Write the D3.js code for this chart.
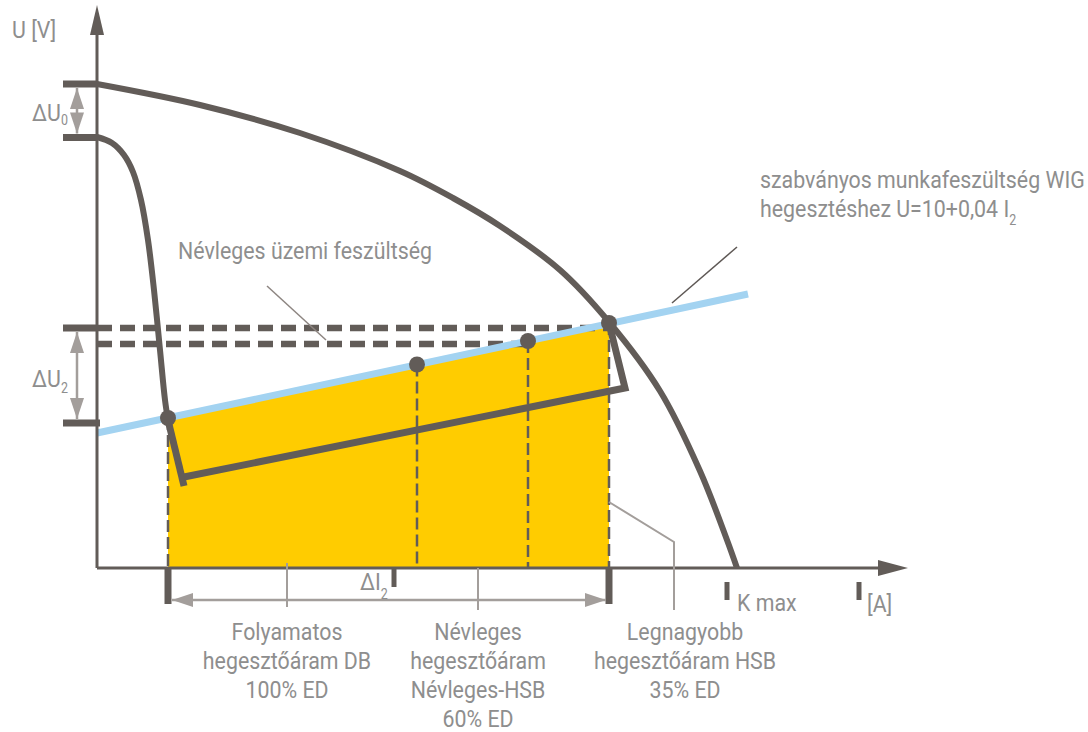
<!DOCTYPE html>
<html>
<head>
<meta charset="utf-8">
<script src="https://cdn.jsdelivr.net/npm/d3@7"></script>
<style>
body { margin: 0; background: #fff; }
text { font-family: Roboto, "DejaVu Sans Condensed", sans-serif; fill: #8e8e8e; font-size: 24px; }
</style>
</head>
<body>
<svg id="chart" width="1088" height="732"></svg>
<script>
// schematic values: current I [A], voltage U [V]
var outerCurve = [[0, 96.8], [51.5, 92.6], [101.5, 87], [151.5, 79.4], [178, 74], [201.5, 68.4],
                  [231.5, 59.6], [256, 49.2], [281.5, 35.4], [301.5, 19.4], [315, 5.6], [320, 0]];
var innerCurve = [[0, 86.2], [7.5, 85], [13.5, 82.6], [18, 79.2], [22, 73.6], [25.5, 65.6],
                  [28.5, 55.6], [31.5, 43.6], [34, 33.6], [35.5, 29.6]];
var normLine = [[0, 27], [325.5, 54.8]];          // U = 10 + 0,04 I2 (schematic)
var opPoints = [[35.5, 30], [160, 40.7], [215.5, 45.4], [256, 49]];
var workLineA = [[35.5, 29.6], [43.5, 16.4]];
var workLineB = [[43.5, 18.2], [264, 36], [256, 49]];
var levelU = [96.8, 86.1, 48, 29];                 // U0 top, U0 bottom, U2 top, U2 bottom
var dashLevels = [[48, 256], [44.8, 215.5]];       // [U, end current]
var currentTicks = [35.5, 256];
var deltaI = 148.5, kMax = 315, unitTick = 381;
var axisMax = [405.5, 112.6];

var svg = d3.select("#chart");
var dark = "#625c58", blue = "#a3d3f1", yellow = "#ffcc00", grey = "#a39e9b";

var x = d3.scaleLinear().domain([0, 400]).range([97, 897]);
var y = d3.scaleLinear().domain([0, 112]).range([568, 8]);

var line = d3.line().x(function(d) { return x(d[0]); }).y(function(d) { return y(d[1]); });
var smooth = d3.line().x(function(d) { return x(d[0]); }).y(function(d) { return y(d[1]); })
        .curve(d3.curveCatmullRom.alpha(0.5));

// yellow area
svg.append("path")
    .attr("d", line([[opPoints[0][0], 0], opPoints[0], opPoints[3], [opPoints[3][0], 0]]))
    .attr("fill", yellow);

// thin dashed drop lines
svg.selectAll(".drop")
    .data(opPoints)
    .enter().append("line")
    .attr("class", "drop")
    .attr("x1", function(d) { return x(d[0]); })
    .attr("x2", function(d) { return x(d[0]); })
    .attr("y1", function(d) { return y(d[1]); })
    .attr("y2", y(0))
    .attr("stroke", dark)
    .attr("stroke-width", 2.5)
    .attr("stroke-dasharray", "12,5");

// dashed voltage levels
svg.selectAll(".lvl")
    .data(dashLevels)
    .enter().append("line")
    .attr("x1", x(0))
    .attr("x2", function(d) { return x(d[1]); })
    .attr("y1", function(d) { return y(d[0]); })
    .attr("y2", function(d) { return y(d[0]); })
    .attr("stroke", dark)
    .attr("stroke-width", 6.5)
    .attr("stroke-dasharray", "15,8");

// bars on the U axis
svg.selectAll(".bar")
    .data(levelU)
    .enter().append("line")
    .attr("x1", x(-17))
    .attr("x2", function(d, i) { return i == 3 ? x(1.5) : x(0); })
    .attr("y1", function(d) { return y(d); })
    .attr("y2", function(d) { return y(d); })
    .attr("stroke", dark)
    .attr("stroke-width", 7);

// blue standard line
svg.append("path")
    .attr("d", line(normLine))
    .attr("fill", "none")
    .attr("stroke", blue)
    .attr("stroke-width", 7);

// characteristics
[outerCurve, innerCurve].forEach(function(c) {
    svg.append("path")
        .attr("d", smooth(c))
        .attr("fill", "none")
        .attr("stroke", dark)
        .attr("stroke-width", 6);
});
[workLineA, workLineB].forEach(function(c) {
    svg.append("path")
        .attr("d", line(c))
        .attr("fill", "none")
        .attr("stroke", dark)
        .attr("stroke-width", 7);
});

svg.selectAll(".dot")
    .data(opPoints)
    .enter().append("circle")
    .attr("cx", function(d) { return x(d[0]); })
    .attr("cy", function(d) { return y(d[1]); })
    .attr("r", 8)
    .attr("fill", dark);

// axes
function arrowHead(tx, ty, dx, dy, len, half, color) {
    var bx = tx - dx * len, by = ty - dy * len;
    svg.append("path")
        .attr("d", "M" + tx + "," + ty + "L" + (bx - dy * half) + "," + (by + dx * half) +
                   "L" + (bx + dy * half) + "," + (by - dx * half) + "Z")
        .attr("fill", color);
}
svg.append("line").attr("x1", x(0)).attr("x2", x(0)).attr("y1", y(0)).attr("y2", y(axisMax[1]) + 10)
    .attr("stroke", dark).attr("stroke-width", 3);
arrowHead(x(0), y(axisMax[1]), 0, -1, 30, 7, dark);
svg.append("line").attr("x1", x(0)).attr("x2", x(axisMax[0]) - 10).attr("y1", y(0)).attr("y2", y(0))
    .attr("stroke", dark).attr("stroke-width", 3);
arrowHead(x(axisMax[0]), y(0), 1, 0, 30, 8, dark);

// ticks below the I axis
currentTicks.forEach(function(c) {
    svg.append("line").attr("x1", x(c)).attr("x2", x(c)).attr("y1", y(0)).attr("y2", y(0) + 36)
        .attr("stroke", dark).attr("stroke-width", 7);
});
svg.append("line").attr("x1", x(deltaI)).attr("x2", x(deltaI)).attr("y1", y(0)).attr("y2", y(0) + 19)
    .attr("stroke", dark).attr("stroke-width", 5);
[kMax, unitTick].forEach(function(c) {
    svg.append("line").attr("x1", x(c)).attr("x2", x(c)).attr("y1", y(0) + 14).attr("y2", y(0) + 32)
        .attr("stroke", dark).attr("stroke-width", 5);
});

// double arrows
function doubleArrow(x1, y1, x2, y2) {
    var len = Math.hypot(x2 - x1, y2 - y1), dx = (x2 - x1) / len, dy = (y2 - y1) / len;
    svg.append("line").attr("x1", x1).attr("y1", y1).attr("x2", x2).attr("y2", y2)
        .attr("stroke", grey).attr("stroke-width", 2.5);
    arrowHead(x2, y2, dx, dy, 21, 7, grey);
    arrowHead(x1, y1, -dx, -dy, 21, 7, grey);
}
doubleArrow(x(-10), y(levelU[0]) + 4, x(-10), y(levelU[1]) - 4);
doubleArrow(x(-10), y(levelU[2]) + 4, x(-10), y(levelU[3]) - 4);
doubleArrow(x(currentTicks[0]) + 4, y(0) + 32, x(currentTicks[1]) - 3, y(0) + 32);

// leaders
function leader(pts, color, w) {
    svg.append("path").attr("d", line(pts)).attr("fill", "none")
        .attr("stroke", color).attr("stroke-width", w);
}
leader([[85, 56.4], [114.5, 45.6]], "#8d8581", 1.5);
leader([[287.5, 53], [320, 64.2]], "#5e5855", 1.5);
leader([[256, 13.2], [288.5, 5.2], [288.5, -8.4]], grey, 2);
leader([[95, 1], [95, -7.8]], grey, 2);
leader([[190.5, 0], [190.5, -8.4]], grey, 2);

// texts (condensed look via horizontal squeeze)
var squeeze = 0.89;
function label(tx, ty, parts, anchor) {
    var t = svg.append("text")
        .attr("transform", "translate(" + tx + "," + ty + ") scale(" + squeeze + ",1)")
        .attr("text-anchor", anchor || "start");
    parts.forEach(function(p) {
        var s = t.append("tspan").text(p[0]);
        if (p[1]) s.attr("font-size", 14).attr("dy", p[1]);
    });
    return t;
}
label(12, 38, [["U [V]"]]);
label(32, 121, [["ΔU"], ["0", 4]]);
label(32, 387, [["ΔU"], ["2", 6]]);
label(x(deltaI) - 34, 590, [["ΔI"], ["2", 9]]);
label(x(kMax) + 10, 611, [["K max"]]);
label(x(unitTick) + 8, 612, [["[A]"]]);
label(178, 259, [["Névleges üzemi feszültség"]]);
label(760, 188, [["szabványos munkafeszültség WIG"]]);
label(760, 217, [["hegesztéshez U=10+0,04 I"], ["2", 8]]);

var bottomLabels = [
    [95, ["Folyamatos", "hegesztőáram DB", "100% ED"]],
    [190.5, ["Névleges", "hegesztőáram", "Névleges-HSB", "60% ED"]],
    [294, ["Legnagyobb", "hegesztőáram HSB", "35% ED"]]
];
bottomLabels.forEach(function(b) {
    b[1].forEach(function(s, i) {
        label(x(b[0]), 640 + i * 29, [[s]], "middle");
    });
});
</script>
</body>
</html>
